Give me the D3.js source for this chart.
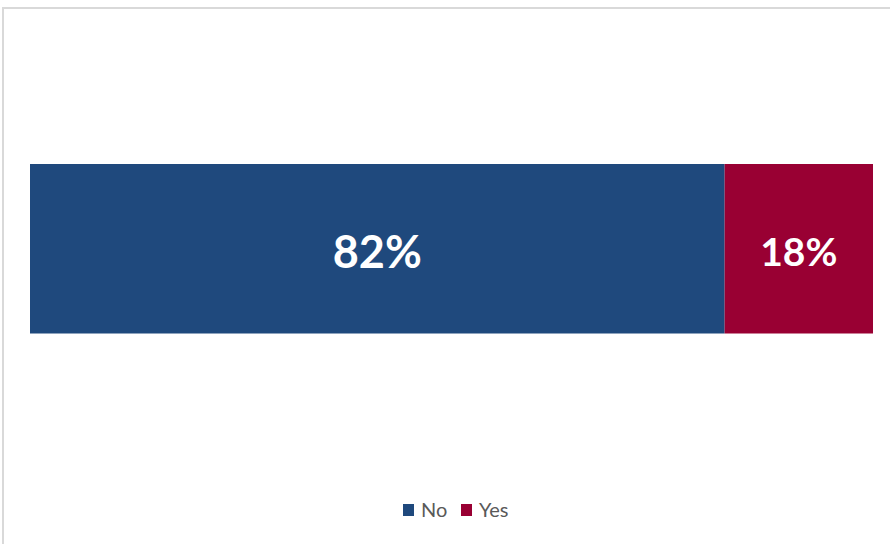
<!DOCTYPE html>
<html>
<head>
<meta charset="utf-8">
<script src="https://cdn.jsdelivr.net/npm/d3@7"></script>
<style>
  body { margin: 0; background: #fff; }
  svg { display: block; }
</style>
</head>
<body>
<svg id="chart" width="890" height="544"></svg>
<script>
// data
var categories = ["No", "Yes"];
var values = [82.4, 17.6];
var labels = ["82%", "18%"];
var colors = ["#1f497d", "#990033"];
var labelFontSizes = [45, 39];

var svg = d3.select("#chart");

// chart frame
svg.append("rect")
    .attr("x", 3)
    .attr("y", 8)
    .attr("width", 900)
    .attr("height", 560)
    .attr("fill", "none")
    .attr("stroke", "#d9d9d9")
    .attr("stroke-width", 2);

var x = d3.scaleLinear()
    .domain([0, d3.sum(values)])
    .range([30, 873]);

var y = d3.scaleBand()
    .domain(["row"])
    .range([164, 333.5])
    .padding(0);

var stacked = [];
var start = 0;
values.forEach(function(v, i) {
    stacked.push({ name: categories[i], x0: start, x1: start + v, label: labels[i], color: colors[i], size: labelFontSizes[i] });
    start += v;
});

var bars = svg.append("g");

bars.selectAll("rect")
    .data(stacked)
    .enter().append("rect")
    .attr("x", function(d) { return x(d.x0); })
    .attr("y", y("row"))
    .attr("width", function(d) { return x(d.x1) - x(d.x0); })
    .attr("height", y.bandwidth())
    .attr("fill", function(d) { return d.color; });

bars.selectAll("text")
    .data(stacked)
    .enter().append("text")
    .attr("x", function(d) { return (x(d.x0) + x(d.x1)) / 2; })
    .attr("y", function(d) { return y("row") + y.bandwidth() / 2 + d.size * 0.43; })
    .attr("text-anchor", "middle")
    .attr("fill", "#ffffff")
    .attr("font-family", "Lato, 'Open Sans', sans-serif")
    .attr("font-weight", "bold")
    .attr("font-size", function(d) { return d.size; })
    .text(function(d) { return d.label; });

// legend
var legend = svg.append("g");
var legendX = [403, 461];

categories.forEach(function(c, i) {
    legend.append("rect")
        .attr("x", legendX[i])
        .attr("y", 504)
        .attr("width", 11)
        .attr("height", 12)
        .attr("fill", colors[i]);
    legend.append("text")
        .attr("x", legendX[i] + 18)
        .attr("y", 517)
        .attr("fill", "#595959")
        .attr("font-family", "Lato, 'Open Sans', sans-serif")
        .attr("font-size", 20)
        .text(c);
});
</script>
</body>
</html>
